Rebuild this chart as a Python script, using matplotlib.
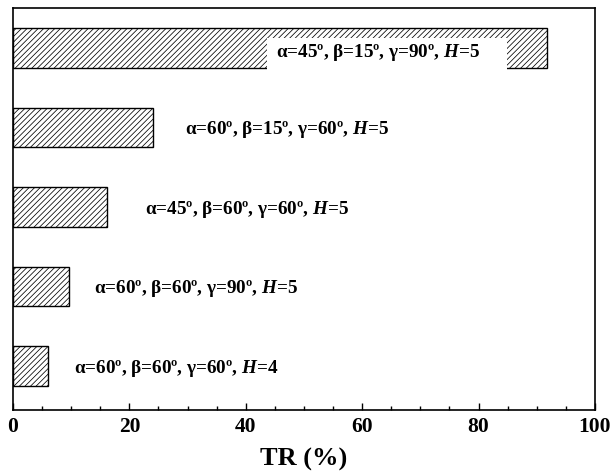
import matplotlib
matplotlib.use("Agg")
import matplotlib.pyplot as plt
from matplotlib.ticker import MultipleLocator
from matplotlib.patches import Rectangle

configs = [
    "α=60º, β=60º, γ=60º, $H$=4",
    "α=60º, β=60º, γ=90º, $H$=5",
    "α=45º, β=60º, γ=60º, $H$=5",
    "α=60º, β=15º, γ=60º, $H$=5",
    "α=45º, β=15º, γ=90º, $H$=5",
]
tr_values = [6.1, 9.6, 16.2, 24.1, 91.8]
xticks = [0, 20, 40, 60, 80, 100]

label_x = [10.5, 14.0, 22.6, 29.6, 45.2]

plt.rcParams['font.family'] = ['Liberation Serif', 'DejaVu Serif']
plt.rcParams['mathtext.fontset'] = 'custom'
plt.rcParams['mathtext.it'] = 'Liberation Serif:italic:bold'
plt.rcParams['mathtext.rm'] = 'Liberation Serif:bold'
plt.rcParams['hatch.linewidth'] = 0.55
plt.rcParams['hatch.color'] = '#333333'

fig = plt.figure(figsize=(6.1, 4.75), dpi=100)
ax = fig.add_axes([0.0213, 0.137, 0.9541, 0.846])

ypos = list(range(len(tr_values)))
ax.barh(ypos, tr_values, height=0.5, color='white', edgecolor='black',
        hatch='//////', linewidth=1.0)

# white panel behind the top label (covers the bar's lower edge too)
ax.add_patch(Rectangle((43.6, 3.715), 41.3, 0.41, facecolor='white',
                       edgecolor='none', zorder=3))

for i, (lab, lx) in enumerate(zip(configs, label_x)):
    y = i - 0.06 if i == len(configs) - 1 else i - 0.03
    ax.text(lx, y, lab, va='center', ha='left', fontsize=13.8,
            fontweight='bold', zorder=4)

ax.set_xlim(0, 100)
ax.set_ylim(-0.55, 4.5)
ax.set_xticks(xticks)
ax.set_xticklabels([str(t) for t in xticks], fontsize=15.5, fontweight='bold')
ax.xaxis.set_minor_locator(MultipleLocator(5))
ax.tick_params(axis='x', which='major', direction='in', length=5, width=1, pad=5)
ax.tick_params(axis='x', which='minor', direction='in', length=3, width=1)
ax.set_yticks([])
for s in ax.spines.values():
    s.set_linewidth(1.2)
ax.set_xlabel('TR (%)', fontsize=19, fontweight='bold', labelpad=8)

fig.savefig('out.png', dpi=100)
